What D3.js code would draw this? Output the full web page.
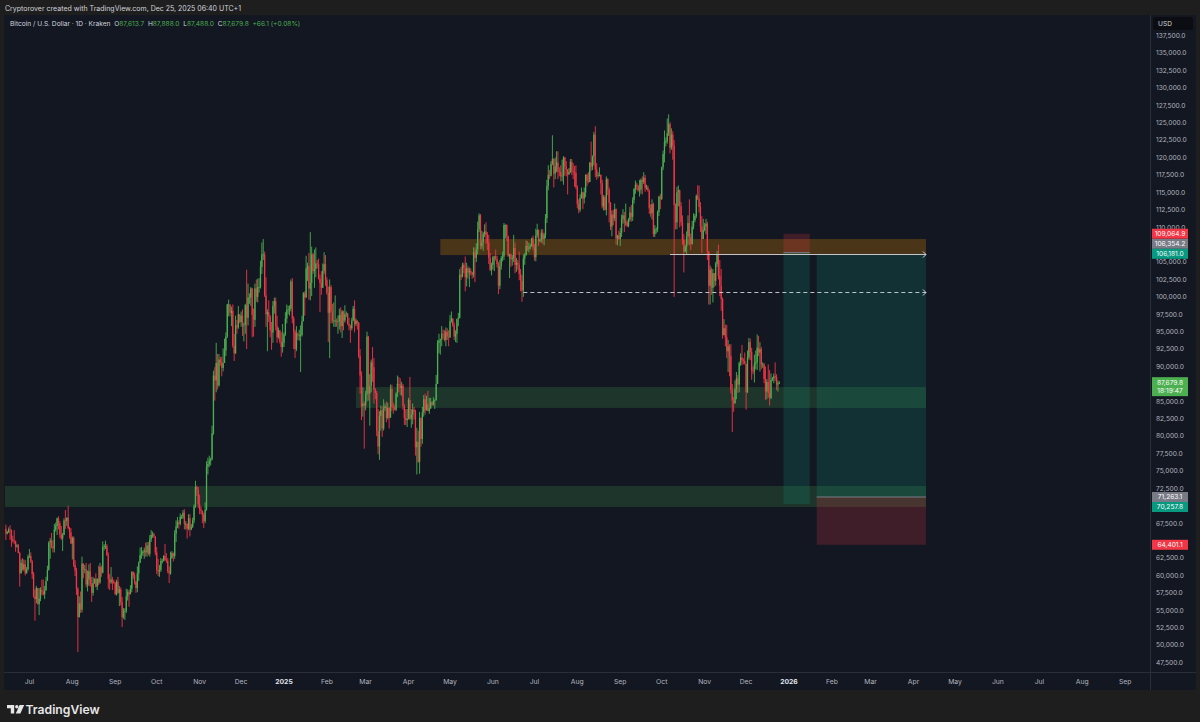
<!DOCTYPE html>
<html><head><meta charset="utf-8">
<script src="https://cdn.jsdelivr.net/npm/d3@7"></script>
<style>
html,body{margin:0;padding:0;background:#1e1e1e;overflow:hidden}
svg{display:block}
text{font-family:Inter,Roboto,"Liberation Sans",sans-serif}
</style></head><body>
<svg id="c" width="1200" height="722"></svg>
<script>
// ---------------- DATA (prices in thousands USD: [close, high, low]) ----------------
const firstOpen = 66.7;
const jun24 = [[66.0,67.3,65.1],[66.2,66.4,65.9],[66.6,66.9,66.1],[66.5,67.2,65.1],[65.2,66.6,64.1],[65.0,65.7,64.7],[64.9,66.5,64.5],[64.1,65.0,63.4],[64.3,64.5,64.0],[63.2,64.5,63.2],[60.3,63.4,58.4],[61.8,62.3,60.3],[60.9,62.5,60.7],[61.6,62.3,60.6],[60.3,62.2,60.0],[60.9,61.2,60.3],[62.7,63.0,60.7]];
const jul24 = [[62.8,63.8,62.5],[62.0,63.3,61.8],[60.2,62.2,59.5],[57.0,60.5,56.8],[56.6,58.0,53.5],[58.2,58.5,56.0],[55.9,58.2,55.8],[56.7,58.2,54.3],[57.9,58.3,56.3],[57.7,59.4,57.2],[57.3,59.4,57.1],[57.9,58.5,56.6],[59.2,59.8,57.8],[60.8,61.4,59.2],[64.7,64.9,60.7],[65.0,65.4,62.4],[64.1,66.1,63.9],[63.9,65.1,63.3],[66.6,67.4,63.3],[67.1,67.6,66.3],[68.2,68.3,65.8],[67.5,68.5,66.6],[65.9,67.8,65.4],[65.3,67.1,65.1],[65.8,66.1,63.5],[67.9,68.2,65.8],[67.8,69.4,66.7],[68.3,68.3,67.1],[66.8,70.0,66.6],[66.2,67.0,65.3],[64.6,66.8,64.5]];
const aug24 = [[65.4,65.6,62.3],[61.5,65.6,61.2],[60.7,62.2,59.9],[58.1,61.1,57.2],[54.0,58.3,49.0],[56.0,57.0,54.0],[55.1,57.7,54.6],[61.7,62.7,54.7],[60.9,61.7,59.6],[60.9,61.5,60.3],[58.7,61.8,58.3],[59.4,60.7,57.7],[60.6,61.6,58.5],[58.7,61.8,58.4],[57.5,59.8,56.2],[58.9,59.8,57.1],[59.5,59.6,58.8],[58.4,60.3,58.3],[59.5,59.6,57.9],[59.0,61.4,58.6],[61.2,61.8,58.8],[60.4,61.4,59.8],[64.1,64.9,60.3],[64.2,64.5,63.6],[64.2,65.0,63.8],[62.9,64.5,62.8],[59.5,63.3,58.1],[59.0,60.2,57.9],[59.4,61.2,58.8],[59.1,59.8,57.9],[58.9,59.4,58.8]];
const sep24 = [[57.3,59.1,57.2],[59.1,59.4,57.1],[57.5,59.8,57.4],[58.0,58.5,55.6],[56.2,58.3,55.7],[54.0,56.9,52.6],[54.8,55.3,53.8],[54.9,55.3,53.6],[57.0,58.1,54.6],[57.6,58.0,56.4],[57.3,57.9,55.5],[58.1,58.6,57.3],[60.5,60.6,57.6],[60.0,60.6,59.5],[59.1,60.4,58.7],[58.2,59.2,57.5],[60.3,61.3,57.6],[61.8,62.0,59.2],[62.9,64.0,61.8],[63.2,64.1,62.4],[63.4,63.6,62.8],[63.6,64.0,62.4],[63.3,64.7,62.7],[64.3,64.8,62.7],[63.1,64.8,62.9],[65.2,65.8,62.7],[65.8,66.5,64.8],[65.9,66.3,65.4],[65.6,66.1,65.4],[63.3,65.6,62.9]];
const oct24 = [[60.8,64.1,60.2],[60.6,62.4,59.9],[60.8,61.5,59.8],[62.1,62.5,60.5],[62.1,62.4,61.7],[62.8,62.9,62.0],[62.2,64.5,62.1],[62.1,63.2,61.8],[60.6,62.5,60.3],[60.3,61.3,58.9],[62.5,63.4,60.1],[63.2,63.5,62.4],[62.8,63.3,62.0],[66.0,66.5,62.4],[67.0,67.9,64.8],[67.6,68.4,66.8],[67.4,67.9,66.7],[68.4,68.9,67.2],[68.4,68.7,68.1],[69.0,69.4,68.1],[67.4,69.5,66.6],[67.4,67.8,66.6],[66.7,67.5,65.3],[68.2,68.8,66.5],[66.6,68.8,65.6],[67.0,67.4,66.5],[67.9,68.3,66.8],[69.9,70.2,67.5],[72.7,73.6,69.7],[72.3,72.9,71.4],[70.2,72.7,69.7]];
const nov24 = [[69.5,71.6,68.8],[69.3,69.9,68.8],[68.7,69.3,67.5],[67.8,69.0,66.8],[69.4,70.5,67.5],[75.6,76.4,69.3],[76.0,76.9,74.5],[76.5,77.2,75.6],[76.7,76.9,75.8],[80.4,81.5,76.5],[88.7,89.4,80.2],[88.0,89.9,85.1],[90.5,93.4,86.3],[87.3,91.8,86.7],[91.0,91.8,87.1],[90.6,91.4,90.1],[89.8,91.4,88.6],[90.5,92.6,89.3],[92.3,94.0,90.5],[94.3,94.9,91.5],[98.9,99.0,94.1],[98.9,99.6,97.2],[97.7,98.9,97.2],[98.0,98.6,95.8],[93.0,98.9,92.7],[91.9,94.7,90.8],[95.9,97.3,91.8],[95.6,96.7,94.7],[97.5,98.7,95.4],[96.4,97.5,96.2]];
const dec24 = [[97.3,97.9,95.7],[95.9,98.2,94.4],[96.0,96.3,93.6],[98.8,99.0,94.7],[97.0,103.9,92.5],[99.9,101.9,95.9],[99.9,100.5,99.0],[101.2,101.4,98.7],[97.4,101.3,94.2],[96.7,98.3,94.3],[101.2,101.9,95.7],[100.0,102.5,99.3],[101.4,102.6,99.2],[101.4,102.7,100.6],[104.3,105.2,101.2],[106.1,107.8,103.3],[106.1,108.3,105.3],[100.2,106.5,100.0],[97.5,102.8,95.7],[97.8,98.2,92.2],[97.2,99.5,96.4],[95.2,97.4,94.2],[94.9,96.4,92.4],[98.7,99.4,93.4],[99.4,99.9,97.6],[95.8,99.9,95.2],[94.2,97.3,93.4],[95.2,95.6,94.0],[93.6,95.2,93.3],[92.8,94.9,91.4],[93.4,96.1,92.0]];
const jan25 = [[94.6,94.9,92.8],[96.9,97.8,94.4],[98.1,98.9,96.2],[98.2,98.7,97.5],[98.3,98.8,97.3],[102.2,102.5,97.9],[96.9,102.7,96.2],[95.0,97.2,92.5],[92.5,95.3,91.2],[94.7,95.8,92.2],[94.5,94.9,93.8],[94.5,95.3,93.7],[94.5,95.9,89.2],[96.5,97.3,94.3],[100.5,100.7,96.5],[99.9,100.8,97.3],[104.1,105.9,99.9],[104.4,104.9,102.3],[101.2,106.3,99.6],[102.0,109.3,99.5],[106.1,107.2,100.1],[103.7,106.3,103.3],[104.0,106.8,101.3],[104.8,107.1,102.8],[104.7,105.3,104.1],[102.6,105.5,102.5],[102.0,103.2,97.8],[101.3,103.7,100.3],[103.7,104.8,101.3],[104.7,106.4,103.3],[102.4,106.0,101.6]];
const feb25 = [[100.6,102.8,100.3],[97.7,101.5,93.5],[101.4,102.5,91.2],[97.9,101.7,96.2],[96.6,99.0,96.2],[96.6,99.2,95.7],[96.6,100.2,95.7],[96.5,96.9,95.7],[96.5,97.3,94.7],[97.4,98.3,95.3],[95.8,98.5,94.9],[97.9,98.1,94.1],[96.6,98.0,95.2],[97.5,98.8,96.3],[97.6,97.9,97.1],[96.1,97.7,96.0],[95.8,97.0,95.2],[95.5,96.0,93.4],[96.6,97.0,95.2],[98.3,98.7,96.5],[96.1,99.5,94.9],[96.6,96.9,95.8],[96.3,96.6,95.3],[91.5,96.4,91.2],[88.7,92.5,86.1],[84.3,89.3,82.3],[84.7,87.0,82.8],[84.4,85.0,78.2]];
const mar25 = [[86.0,86.5,83.7],[94.3,95.0,85.0],[86.1,94.4,85.1],[87.2,88.9,81.5],[90.6,91.0,86.3],[89.9,92.8,87.8],[86.7,91.2,84.7],[86.2,86.9,85.3],[80.7,86.5,80.0],[78.5,83.9,77.4],[82.9,83.6,76.6],[83.7,84.4,80.8],[81.1,84.3,79.9],[84.0,85.3,80.8],[84.3,84.7,83.6],[82.6,85.0,82.0],[84.1,84.8,82.4],[82.7,84.0,81.1],[86.8,87.4,82.6],[84.2,87.4,83.6],[84.0,84.8,83.2],[83.8,84.5,83.7],[86.1,86.3,83.6],[87.5,88.7,85.6],[87.4,88.5,86.3],[86.9,88.3,85.9],[87.2,87.8,85.8],[84.4,87.5,83.8],[82.6,84.6,81.6],[82.3,83.9,81.6],[82.5,83.9,81.3]];
const apr25 = [[85.2,85.5,82.4],[82.5,88.5,82.3],[83.1,83.9,81.2],[83.8,84.7,81.7],[83.5,84.2,82.4],[78.4,83.8,77.2],[79.2,81.2,74.5],[76.3,80.8,76.2],[82.6,83.5,74.6],[79.6,82.7,78.5],[83.4,84.2,78.9],[85.3,85.9,82.8],[83.7,86.1,83.1],[84.6,85.8,83.9],[83.6,86.5,83.6],[84.0,85.5,83.2],[84.9,85.5,83.9],[84.5,85.0,84.3],[85.1,85.6,84.4],[85.2,85.3,83.9],[87.5,88.8,85.1],[93.4,93.8,87.6],[93.7,94.7,91.9],[93.9,94.0,91.7],[94.7,95.8,92.9],[94.6,95.3,93.9],[93.8,95.2,93.6],[95.0,95.6,92.9],[94.3,95.5,93.8],[94.2,95.2,92.9]];
const may25 = [[96.5,97.4,94.1],[96.9,97.9,96.3],[95.9,96.9,95.7],[94.3,96.3,93.8],[94.7,95.2,93.5],[96.8,96.9,93.4],[97.0,97.7,95.8],[103.2,104.0,96.9],[102.9,104.3,102.4],[104.6,104.9,102.8],[104.1,104.9,103.4],[102.8,105.8,100.8],[104.1,104.9,101.5],[103.5,104.4,102.6],[103.7,104.2,101.4],[103.5,104.1,103.1],[103.2,103.6,102.6],[106.4,107.1,102.8],[105.6,107.1,102.1],[106.8,107.7,105.0],[109.7,110.8,106.1],[111.7,112.0,109.3],[107.3,111.9,106.8],[107.8,109.5,106.9],[109.0,109.3,106.6],[109.4,110.4,108.6],[108.9,110.7,107.6],[107.8,109.3,106.7],[105.6,108.9,104.7],[103.9,106.3,103.7],[104.6,104.9,103.1]];
const jun25 = [[105.7,105.9,103.9],[105.8,105.9,103.7],[105.4,106.8,105.2],[104.7,105.9,104.2],[101.6,105.0,100.4],[104.4,105.3,101.1],[105.6,105.9,103.9],[105.8,106.5,105.1],[110.3,110.6,105.3],[110.3,110.4,108.4],[108.7,110.4,108.0],[105.9,108.8,105.7],[106.1,106.2,102.7],[105.4,106.2,104.3],[105.6,106.0,104.5],[107.0,108.9,105.0],[104.6,107.8,103.4],[104.9,105.6,103.6],[104.6,105.3,103.9],[103.3,106.5,102.4],[102.3,104.0,100.8],[100.9,103.1,99.3],[105.5,106.1,100.0],[106.0,106.3,104.6],[107.3,108.1,105.9],[106.9,108.0,106.6],[107.1,107.8,106.4],[107.3,107.6,106.8],[108.4,108.5,107.2],[107.1,108.8,106.7]];
const jul25 = [[105.7,107.6,105.2],[108.8,109.8,105.1],[109.6,110.5,108.5],[108.0,109.7,107.3],[108.2,108.4,107.8],[109.2,109.7,107.8],[108.3,109.7,107.6],[108.9,109.2,107.4],[111.3,111.9,108.4],[115.9,116.8,110.6],[117.5,118.9,115.3],[117.4,118.2,116.9],[119.1,119.5,117.3],[119.8,123.2,118.9],[117.7,119.9,115.7],[118.7,120.0,116.9],[119.3,120.9,117.9],[118.0,120.9,116.9],[117.9,118.6,117.3],[117.3,118.9,116.6],[117.4,119.7,116.6],[120.0,120.2,116.1],[118.7,120.1,117.4],[118.3,119.5,117.3],[117.6,118.0,114.7],[117.9,118.5,117.5],[119.4,119.8,117.8],[118.0,119.8,117.5],[117.9,119.2,116.9],[117.8,118.8,115.8],[115.8,118.9,115.5]];
const aug25 = [[113.3,116.0,112.7],[112.5,114.0,112.0],[114.2,114.7,112.2],[115.0,115.7,114.1],[114.1,115.1,112.6],[115.0,115.7,113.4],[117.5,117.6,114.3],[116.6,117.7,115.9],[116.5,117.9,116.3],[119.3,119.3,116.5],[118.7,122.3,118.1],[120.2,120.3,118.2],[123.3,123.7,118.9],[118.3,124.5,117.2],[117.4,119.2,116.8],[117.5,117.9,117.1],[117.5,118.6,117.3],[116.3,117.6,114.7],[113.0,116.8,112.7],[114.3,114.6,112.4],[112.5,114.6,112.4],[116.9,117.3,111.7],[115.4,117.0,114.6],[113.5,115.7,110.7],[110.1,113.6,109.6],[111.8,112.4,108.7],[111.3,112.5,110.3],[112.6,113.4,110.9],[108.4,112.7,107.5],[108.8,108.9,107.4],[108.3,109.5,108.2]];
const sep25 = [[109.2,109.9,107.3],[111.2,111.8,108.6],[111.7,112.6,110.5],[110.7,112.2,109.3],[110.7,113.4,110.2],[110.2,111.0,110.0],[111.1,111.3,110.0],[112.1,112.9,110.8],[111.5,113.2,110.8],[113.9,114.3,110.9],[115.5,115.6,113.4],[116.1,116.7,114.8],[115.9,116.4,115.3],[115.3,116.1,115.1],[115.4,116.8,114.4],[116.8,117.0,114.8],[116.5,117.3,114.7],[117.1,117.9,116.2],[115.7,117.5,115.1],[115.7,116.1,115.4],[115.3,116.0,115.1],[112.7,115.4,111.9],[112.0,113.3,111.5],[113.3,114.0,111.1],[109.0,113.5,108.6],[109.7,110.3,108.6],[109.7,110.0,109.1],[112.2,112.4,109.3],[114.4,114.5,111.6],[114.1,114.8,112.6]];
const oct25 = [[118.6,118.7,113.9],[120.5,121.0,118.2],[122.2,123.9,119.3],[122.4,122.9,121.6],[123.5,125.6,122.0],[124.8,126.2,123.1],[121.4,125.1,120.6],[123.3,124.2,121.1],[121.7,123.8,119.7],[113.2,122.5,100.0],[110.7,113.4,109.7],[115.0,115.8,109.7],[115.3,116.0,113.0],[113.0,115.4,110.0],[110.7,113.6,110.2],[108.2,111.7,107.5],[106.5,109.0,103.5],[107.2,107.5,106.4],[108.7,109.4,106.1],[110.6,111.7,107.5],[108.5,114.0,107.4],[107.6,109.1,106.7],[110.1,110.9,107.5],[111.0,112.0,109.7],[111.6,111.9,110.7],[114.5,114.7,111.3],[114.1,116.0,113.9],[112.9,116.0,112.1],[110.1,113.6,109.3],[108.3,111.6,106.3],[109.6,111.2,108.6]];
const nov25 = [[110.1,110.6,109.4],[110.5,111.2,109.0],[106.5,110.8,105.3],[101.6,106.6,98.9],[103.9,104.5,98.9],[101.3,104.2,100.3],[103.4,104.0,99.2],[102.3,103.4,101.4],[104.7,105.0,101.6],[106.0,106.6,104.3],[103.0,107.5,102.5],[101.6,105.3,100.1],[99.7,104.0,98.0],[94.5,99.9,94.0],[95.5,96.8,94.5],[94.2,96.0,92.9],[92.2,96.0,91.2],[92.9,93.8,89.2],[91.5,93.2,88.6],[86.6,93.2,86.1],[85.1,87.5,80.6],[84.7,85.6,83.5],[86.8,88.0,84.7],[88.3,89.2,85.3],[87.4,88.8,86.2],[90.5,90.7,86.3],[91.3,91.9,90.1],[90.9,93.1,90.2],[90.8,91.2,90.3],[90.4,92.0,90.3]];
const dec25 = [[86.3,90.4,83.8],[91.3,92.3,86.2],[93.5,94.1,91.0],[92.1,94.0,90.9],[89.4,92.7,88.1],[89.3,90.0,88.9],[90.4,91.7,87.7],[90.6,92.3,89.6],[92.7,94.6,89.5],[92.0,94.4,91.5],[92.5,93.5,89.3],[90.3,92.8,89.6],[90.3,90.6,89.8],[88.2,90.5,87.6],[86.4,90.0,85.2],[87.8,88.2,85.3],[86.2,90.3,85.5],[85.5,89.5,84.4],[88.1,89.0,85.3],[88.3,88.5,87.9],[88.6,89.0,87.6],[88.5,90.6,87.9],[87.4,88.9,86.6],[87.6,88.0,86.4],[87.6798,87.888,87.488]];
const lastOpen = 87.6137;
const monthData   = [jun24,jul24,aug24,sep24,oct24,nov24,dec24,jan25,feb25,mar25,apr25,may25,jun25,jul25,aug25,sep25,oct25,nov25,dec25];
const monthStarts = ["2024-06-14","2024-07-01","2024-08-01","2024-09-01","2024-10-01","2024-11-01","2024-12-01","2025-01-01","2025-02-01","2025-03-01","2025-04-01","2025-05-01","2025-06-01","2025-07-01","2025-08-01","2025-09-01","2025-10-01","2025-11-01","2025-12-01"];

// price ticks & time labels
const priceTicks = [47500,50000,52500,55000,57500,60000,62500,65000,67500,70000,72500,75000,77500,80000,82500,85000,87500,90000,92500,95000,97500,100000,102500,105000,107500,110000,112500,115000,117500,120000,122500,125000,127500,130000,132500,135000,137500];
const timeTickDates  = ["2024-07-01","2024-08-01","2024-09-01","2024-10-01","2024-11-01","2024-12-01","2025-01-01","2025-02-01","2025-03-01","2025-04-01","2025-05-01","2025-06-01","2025-07-01","2025-08-01","2025-09-01","2025-10-01","2025-11-01","2025-12-01","2026-01-01","2026-02-01","2026-03-01","2026-04-01","2026-05-01","2026-06-01","2026-07-01","2026-08-01","2026-09-01"];
const timeTickLabels = ["Jul","Aug","Sep","Oct","Nov","Dec","2025","Feb","Mar","Apr","May","Jun","Jul","Aug","Sep","Oct","Nov","Dec","2026","Feb","Mar","Apr","May","Jun","Jul","Aug","Sep"];

// drawings (dates + prices)
const zoneFrom   = ["2025-04-24","2025-02-22","2024-06-01"];
const zoneTo     = ["2026-04-10","2026-04-10","2026-04-10"];
const zoneTop    = [108300, 87050, 72850];
const zoneBottom = [106000, 84050, 69830];
const zoneKind   = ["orange","green","green"];
const rayFrom  = ["2025-10-07","2025-06-23"];
const rayTo    = ["2026-04-10","2026-04-10"];
const rayPrice = [106200, 100700];
const rayDash  = [false, true];
// position tools: [short, long]
const posFrom   = ["2025-12-28","2026-01-21"];
const posTo     = ["2026-01-16","2026-04-10"];
const posEntry  = [106354.2, 71263.1];
const posStop   = [109064.9, 64401.1];
const posTarget = [70257.8, 106181.0];
const posFixedTags = [false, true];
const lastPrice = 87679.8, countdown = "18:19:47";
const headerText = "Cryptorover created with TradingView.com, Dec 25, 2025 06:40 UTC+1";
const legendTitle = "Bitcoin / U.S. Dollar · 1D · Kraken";
const legendKeys = ["O","H","L","C"];
const legendVals = ["87,613.7","87,888.0","87,488.0","87,679.8"];
const legendChange = "+66.1 (+0.08%)";

// ---------------- BUILD ----------------
const parse = d3.utcParse("%Y-%m-%d");
const candles = [];
let prev = firstOpen;
monthData.forEach((arr, mi) => {
  const s = parse(monthStarts[mi]);
  arr.forEach((r, i) => {
    const d = d3.utcDay.offset(s, i);
    const isLast = (mi === monthData.length-1 && i === arr.length-1);
    const o = isLast ? lastOpen : prev;
    candles.push({date:d, o:o*1000, c:r[0]*1000, h:Math.max(r[1], r[0], o)*1000, l:Math.min(r[2], r[0], o)*1000});
    prev = r[0];
  });
});

const svg = d3.select("#c");
const P = {l:4, r:1196, t:15, b:690, axisX:1150, axisY:672};
const x = d3.scaleUtc().domain([parse("2025-01-01"), parse("2026-01-01")]).range([284, 789]);
const y = d3.scaleLinear().domain([47500, 137500]).range([662.5, 35.7]);
const dayW = x(parse("2025-01-02")) - x(parse("2025-01-01"));

const UP = "#4caf50", DOWN = "#f23645", BG = "#131722";

// frame
svg.append("rect").attr("x",0).attr("y",0).attr("width",1200).attr("height",722).attr("fill","#1e1e1e");
svg.append("rect").attr("x",P.l).attr("y",P.t).attr("width",P.r-P.l).attr("height",P.b-P.t).attr("fill",BG);
svg.append("line").attr("x1",P.l).attr("x2",P.r).attr("y1",P.axisY+0.5).attr("y2",P.axisY+0.5).attr("stroke","#2a2e39");
svg.append("line").attr("x1",P.axisX+0.5).attr("x2",P.axisX+0.5).attr("y1",P.t).attr("y2",P.b).attr("stroke","#2a2e39");

const defs = svg.append("defs");
defs.append("clipPath").attr("id","pc").append("rect").attr("x",P.l+1).attr("y",P.t).attr("width",P.axisX-P.l-1).attr("height",P.axisY-P.t);
const g = svg.append("g").attr("clip-path","url(#pc)");

// zones
const zoneFill = {orange:"rgba(255,152,0,0.24)", green:"rgba(76,175,80,0.2)"};
zoneTop.forEach((t,i) => {
  g.append("rect").attr("x",x(parse(zoneFrom[i]))).attr("width",x(parse(zoneTo[i]))-x(parse(zoneFrom[i])))
   .attr("y",y(t)).attr("height",y(zoneBottom[i])-y(t)).attr("fill",zoneFill[zoneKind[i]]);
});

// position tools
posEntry.forEach((e,i) => {
  const x0 = x(parse(posFrom[i])), x1 = x(parse(posTo[i]));
  const tgt = posTarget[i], st = posStop[i];
  g.append("rect").attr("x",x0).attr("width",x1-x0).attr("y",y(Math.max(e,tgt))).attr("height",Math.abs(y(tgt)-y(e))).attr("fill","rgba(8,153,129,0.2)");
  g.append("rect").attr("x",x0).attr("width",x1-x0).attr("y",y(Math.max(e,st))).attr("height",Math.abs(y(st)-y(e))).attr("fill","rgba(242,54,69,0.2)");
  g.append("line").attr("x1",x0).attr("x2",x1).attr("y1",y(e)).attr("y2",y(e)).attr("stroke","#787b86").attr("stroke-width",1);
});

// candles
const cg = g.append("g");
cg.selectAll("line.w").data(candles).join("line").attr("class","w")
  .attr("x1",d=>x(d.date)).attr("x2",d=>x(d.date)).attr("y1",d=>y(d.h)).attr("y2",d=>y(d.l))
  .attr("stroke",d=>d.c>=d.o?UP:DOWN).attr("stroke-width",0.9);
cg.selectAll("rect.b").data(candles).join("rect").attr("class","b")
  .attr("x",d=>x(d.date)-dayW*0.47).attr("width",dayW*0.94)
  .attr("y",d=>y(Math.max(d.o,d.c))).attr("height",d=>Math.max(0.8, Math.abs(y(d.o)-y(d.c))))
  .attr("fill",d=>d.c>=d.o?UP:DOWN);

// rays
rayPrice.forEach((p,i) => {
  const x0 = x(parse(rayFrom[i])), x1 = x(parse(rayTo[i])), yy = Math.round(y(p))+0.5;
  g.append("line").attr("x1",x0).attr("x2",x1).attr("y1",yy).attr("y2",yy)
   .attr("stroke","#d1d4dc").attr("stroke-width",1).attr("stroke-dasharray",rayDash[i]?"4,3":null).attr("opacity",0.9);
  g.append("path").attr("d",`M${x1-3},${yy-3}L${x1},${yy}L${x1-3},${yy+3}`).attr("fill","none").attr("stroke","#d1d4dc").attr("stroke-width",1);
});

// ---- price tags for drawings ----
const tags = [];
posEntry.forEach((e,i)=>{
  tags.push({p:e, col:"#787b86", fixed:posFixedTags[i]});
  tags.push({p:posStop[i], col:"#f23645", fixed:true});
  tags.push({p:posTarget[i], col:"#089981", fixed:posFixedTags[i]});
});
tags.forEach(t => t.y = y(t.p));
const placed = tags.filter(t=>t.fixed);
tags.filter(t=>!t.fixed).forEach(t => {
  placed.forEach(o => {
    if (Math.abs(o.y - t.y) < 10) t.y = (t.y <= o.y) ? o.y - 10 : o.y + 10;
  });
  placed.push(t);
});
const lastY = y(lastPrice);

// ---- price axis ----
const ax = svg.append("g");
const occupied = tags.map(t=>t.y).concat([lastY, lastY+8]);
const visTicks = priceTicks.filter(p => occupied.every(o => Math.abs(y(p)-o) >= 6));
ax.selectAll("text.pt").data(visTicks).join("text").attr("class","pt")
  .attr("x",1156).attr("y",d=>y(d)).attr("dy","0.35em").attr("font-size",6.6).attr("fill","#b2b5be")
  .text(d=>d3.format(",.1f")(d));
ax.append("rect").attr("x",1153).attr("y",17).attr("width",40).attr("height",13).attr("rx",2).attr("fill","#0b0d13");
ax.append("text").attr("x",1158).attr("y",23.5).attr("dy","0.35em").attr("font-size",6.6).attr("fill","#d1d4dc").text("USD");

tags.forEach(t => {
  ax.append("rect").attr("x",1152).attr("y",t.y-5).attr("width",36).attr("height",10).attr("fill",t.col);
  ax.append("text").attr("x",1170).attr("y",t.y).attr("dy","0.35em").attr("text-anchor","middle").attr("font-size",6.6).attr("fill","#ffffff").text(d3.format(",.1f")(t.p));
});
ax.append("rect").attr("x",1152).attr("y",lastY-5.5).attr("width",36).attr("height",19).attr("fill","#4caf50");
ax.append("text").attr("x",1170).attr("y",lastY).attr("dy","0.35em").attr("text-anchor","middle").attr("font-size",6.6).attr("fill","#ffffff").text(d3.format(",.1f")(lastPrice));
ax.append("text").attr("x",1170).attr("y",lastY+8).attr("dy","0.35em").attr("text-anchor","middle").attr("font-size",6.6).attr("fill","#ffffff").text(countdown);

// ---- time axis ----
timeTickDates.forEach((d,i)=>{
  const bold = /^\d{4}$/.test(timeTickLabels[i]);
  svg.append("text").attr("x",x(parse(d))).attr("y",681.5).attr("dy","0.35em").attr("text-anchor","middle")
    .attr("font-size",6.8).attr("font-weight",bold?700:400).attr("fill",bold?"#e0e3eb":"#b2b5be").text(timeTickLabels[i]);
});

// ---- header & legend ----
svg.append("text").attr("x",5).attr("y",9).attr("dy","0.35em").attr("font-size",7).attr("fill","#d1d4dc").text(headerText);
const lg = svg.append("text").attr("x",10).attr("y",24).attr("dy","0.35em").attr("font-size",6.6).attr("fill","#d1d4dc").attr("xml:space","preserve");
lg.append("tspan").text(legendTitle + "  ");
legendKeys.forEach((k,i)=>{
  lg.append("tspan").attr("fill","#d1d4dc").text(k);
  lg.append("tspan").attr("fill","#4caf50").text(legendVals[i] + "  ");
});
lg.append("tspan").attr("fill","#4caf50").text(legendChange);

// ---- TradingView logo ----
const logo = svg.append("g").attr("transform","translate(7,705)");
logo.append("path").attr("d","M0,0H7.2V8.6H3.8V3.3H0Z").attr("fill","#e6e6e6");
logo.append("circle").attr("cx",9.8).attr("cy",1.7).attr("r",1.7).attr("fill","#e6e6e6");
logo.append("path").attr("d","M12.6,0H17.2L13.4,8.6H8.8Z").attr("fill","#e6e6e6");
svg.append("text").attr("x",25.5).attr("y",709.5).attr("dy","0.35em").attr("font-size",12.2).attr("font-weight",600).attr("fill","#e6e6e6").text("TradingView");
</script></body></html>
